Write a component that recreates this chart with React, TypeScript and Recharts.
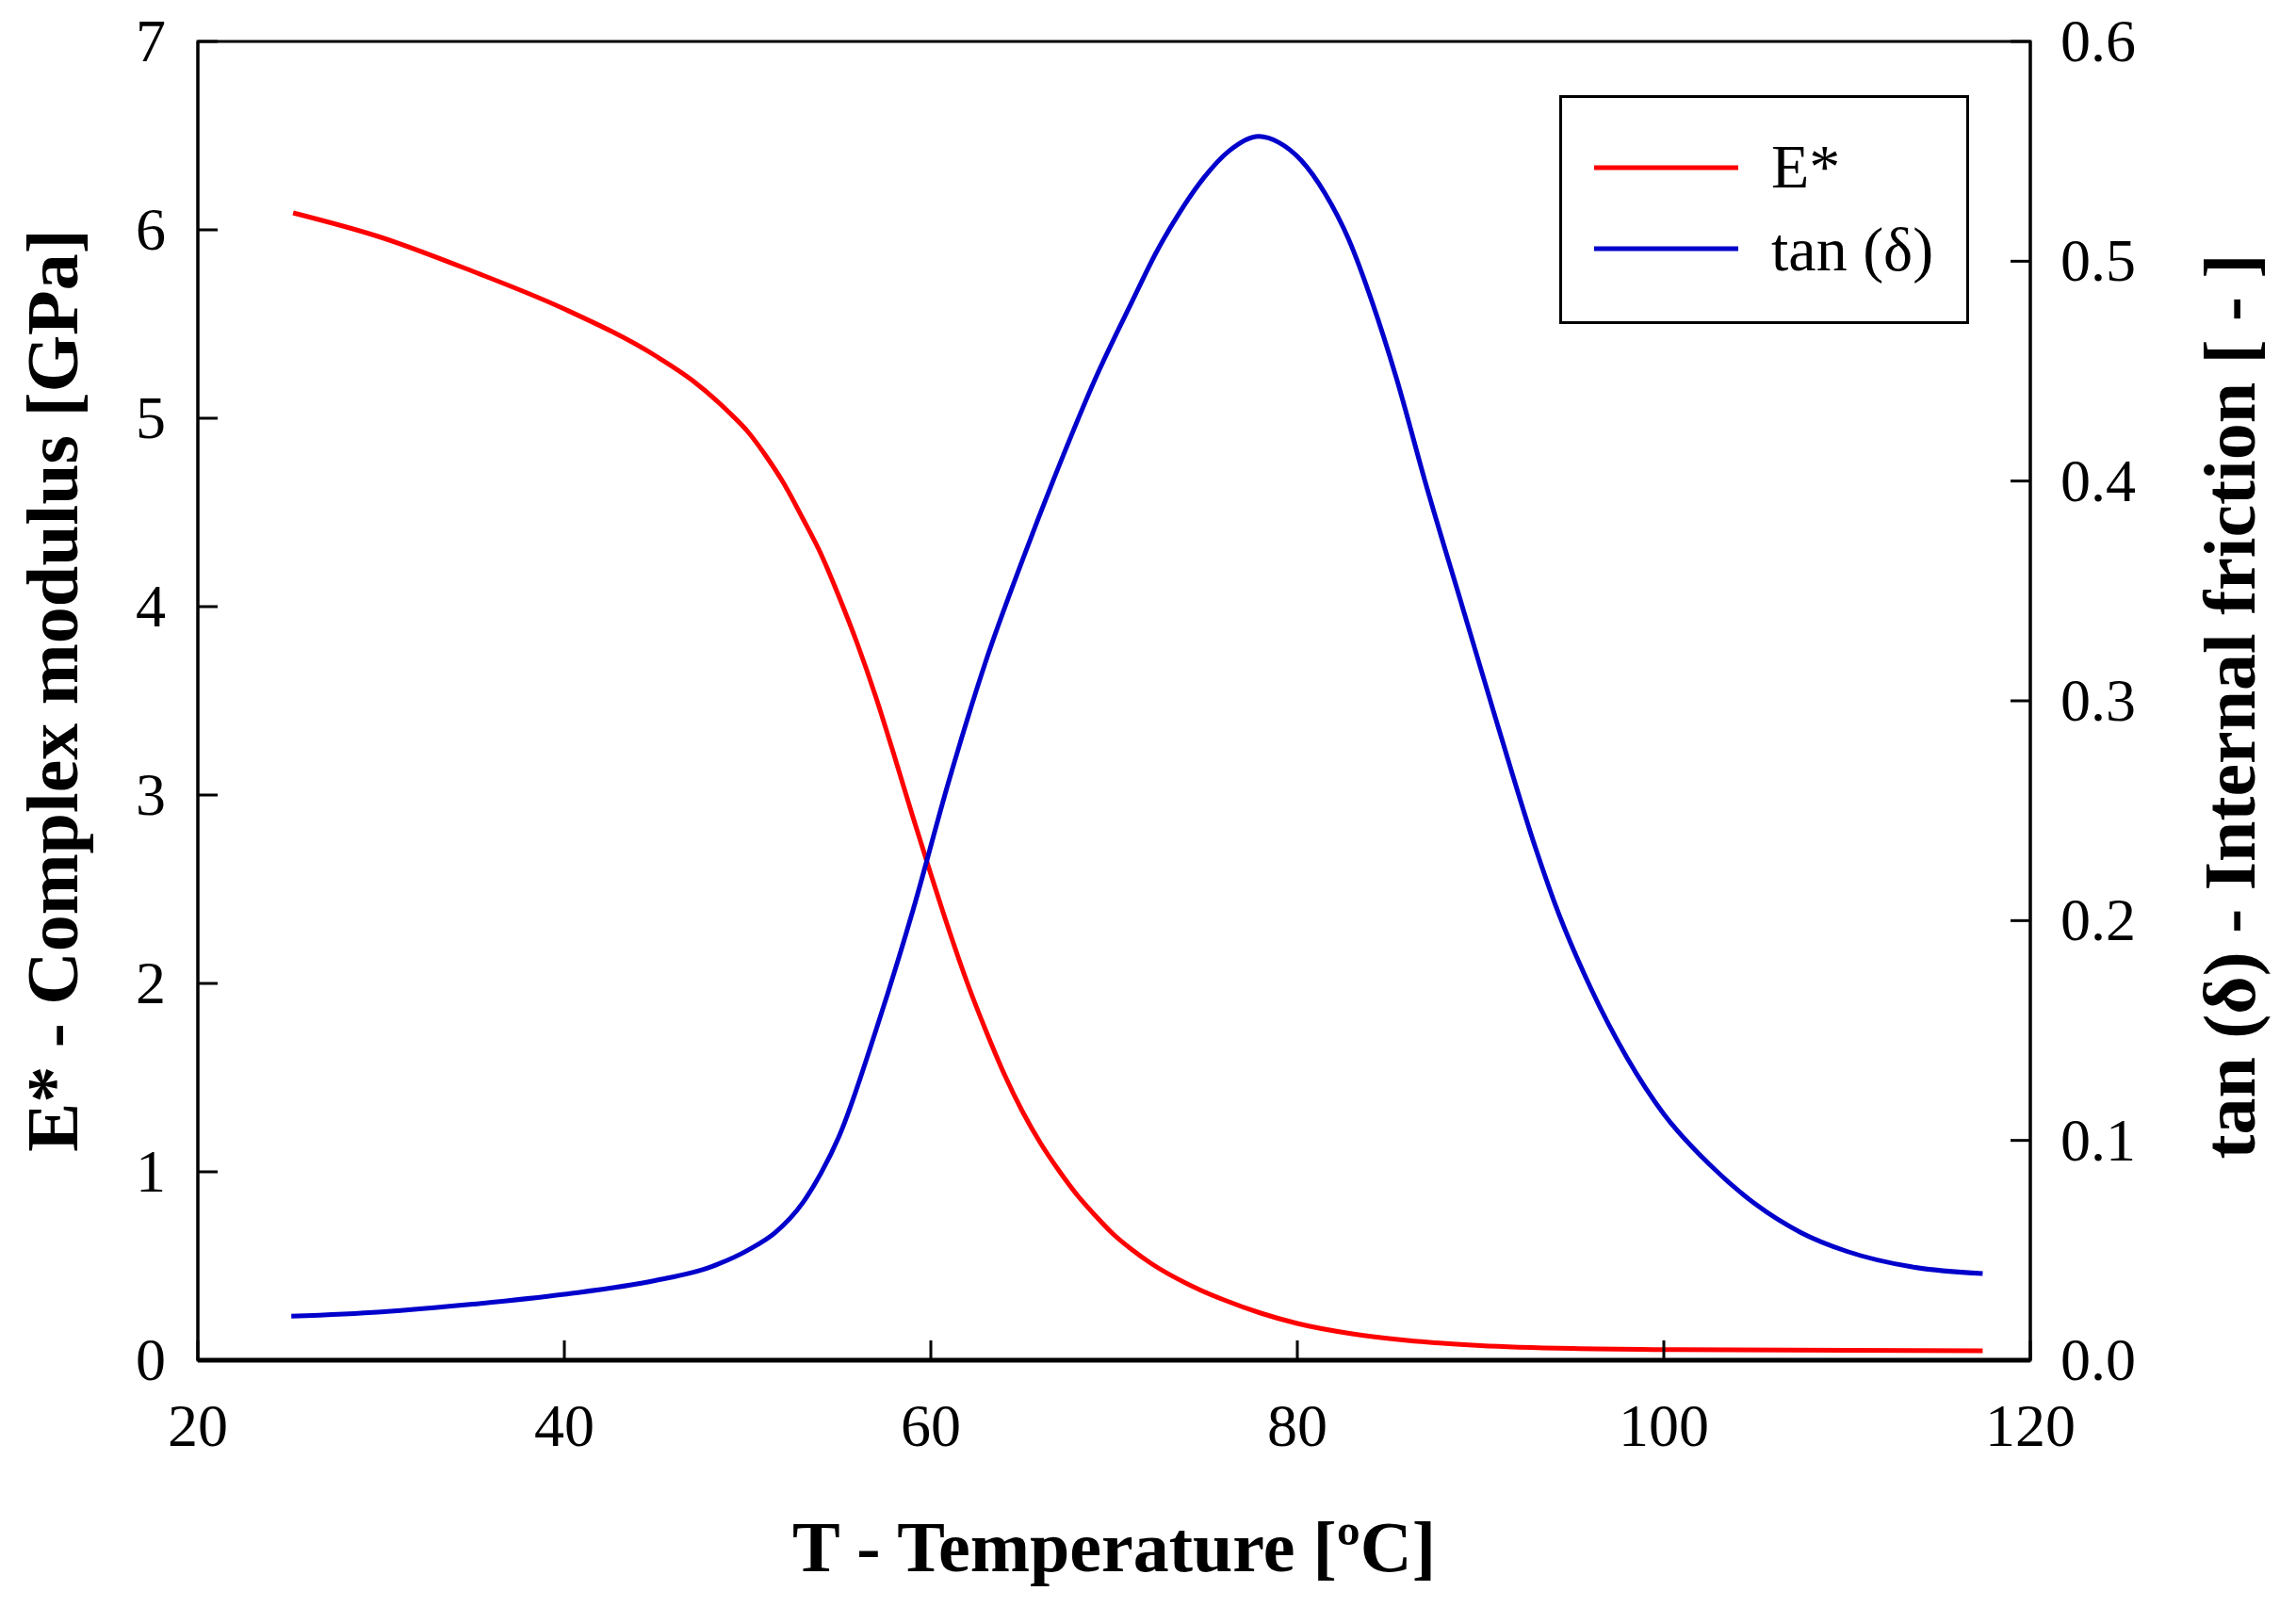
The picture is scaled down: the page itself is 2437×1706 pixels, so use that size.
import React from "react";
import {
  LineChart,
  Line,
  XAxis,
  YAxis,
  Legend,
  ReferenceArea,
} from "recharts";

// E* - complex modulus [GPa] vs temperature [°C]
const modulusTemps = [
  25.2, 30, 35, 40, 45, 47, 49, 50, 51, 52, 53, 54, 55, 56, 57, 58, 59, 60, 61,
  62, 63, 64, 65, 66, 67, 68, 69, 70, 71, 72, 74, 76, 78, 80, 83, 86, 90, 95,
  100, 110, 117.4,
];
const modulusValues = [
  6.09, 5.96, 5.78, 5.58, 5.33, 5.2, 5.03, 4.93, 4.8, 4.65, 4.47, 4.28, 4.05,
  3.8, 3.52, 3.21, 2.89, 2.58, 2.28, 2.0, 1.75, 1.52, 1.32, 1.15, 1.005, 0.875,
  0.765, 0.665, 0.585, 0.515, 0.405, 0.32, 0.25, 0.195, 0.14, 0.105, 0.078,
  0.062, 0.056, 0.052, 0.05,
];

// tan(δ) - internal friction vs temperature [°C]
const tanTemps = [
  25.1, 30, 35, 40, 45, 48, 50, 51.5, 53, 54, 55, 57, 59, 61, 63, 65, 67, 69,
  71, 72.3, 73.6, 74.9, 76.25, 77.9, 79, 80.2, 81.5, 82.8, 84.1, 85.4, 87, 89,
  91, 93, 94, 96, 98, 100, 102.5, 105, 107.5, 110, 113.5, 117.4,
];
const tanValues = [
  0.02, 0.022, 0.0255, 0.03, 0.0363, 0.0425, 0.05, 0.058, 0.0715, 0.085, 0.102,
  0.15, 0.204, 0.264, 0.318, 0.364, 0.407, 0.447, 0.482, 0.504, 0.5225, 0.538,
  0.55, 0.5568, 0.554, 0.546, 0.531, 0.51, 0.481, 0.447, 0.399, 0.343, 0.287,
  0.233, 0.209, 0.1695, 0.1375, 0.112, 0.089, 0.071, 0.058, 0.0495, 0.0425,
  0.0394,
];

const xTicks = [20, 40, 60, 80, 100, 120];
const leftTicks = [0, 1, 2, 3, 4, 5, 6, 7];
const rightTicks = [0, 0.1, 0.2, 0.3, 0.4, 0.5, 0.6];

const modulusData = modulusTemps.map((t, i) => ({ t, e: modulusValues[i] }));
const tanData = tanTemps.map((t, i) => ({ t, tan: tanValues[i] }));

const FONT = "'Liberation Serif', 'Times New Roman', serif";

const LeftTick = ({ x, y, payload }: any) => (
  <g>
    <line x1={x} x2={x + 21} y1={y} y2={y} stroke="#000" strokeWidth={3} />
    <text x={x - 34} y={y} dy={21} textAnchor="end" fontSize={64} fontFamily={FONT} fill="#000">
      {payload.value}
    </text>
  </g>
);

const RightTick = ({ x, y, payload }: any) => (
  <g>
    <line x1={x - 21} x2={x} y1={y} y2={y} stroke="#000" strokeWidth={3} />
    <text x={x + 32} y={y} dy={21} textAnchor="start" fontSize={64} fontFamily={FONT} fill="#000">
      {Number(payload.value).toFixed(1)}
    </text>
  </g>
);

const BottomTick = ({ x, y, payload }: any) => (
  <g>
    <line x1={x} x2={x} y1={y - 21} y2={y} stroke="#000" strokeWidth={3} />
    <text x={x} y={y + 91} textAnchor="middle" fontSize={64} fontFamily={FONT} fill="#000">
      {payload.value}
    </text>
  </g>
);

const LegendBox = ({ payload }: any) => (
  <div
    style={{
      width: 435,
      height: 243,
      border: "3px solid #000",
      boxSizing: "border-box",
      background: "#fff",
    }}
  >
    <svg width={429} height={237} style={{ display: "block" }}>
      {(payload || []).map((p: any, i: number) => (
        <g key={p.value}>
          <line x1={34} x2={187} y1={74 + i * 86} y2={74 + i * 86} stroke={p.color} strokeWidth={5} />
          <text x={222} y={95 + i * 88} fontSize={66} fontFamily={FONT} fill="#000">
            {p.value}
          </text>
        </g>
      ))}
    </svg>
  </div>
);

export default function App() {
  return (
    <LineChart width={2420} height={1690} margin={{ top: 36, right: 0, bottom: 0, left: 0 }}>
      <XAxis
        type="number"
        dataKey="t"
        domain={[20, 120]}
        ticks={xTicks}
        allowDataOverflow
        height={254}
        tickSize={0}
        tickMargin={0}
        tickLine={false}
        tick={<BottomTick />}
        axisLine={{ stroke: "#000", strokeWidth: 5 }}
        label={(props: any) => {
          const vb = props.viewBox;
          return (
            <text
              x={vb.x + vb.width / 2}
              y={vb.y + 224}
              textAnchor="middle"
              fontSize={76}
              fontWeight="bold"
              fontFamily={FONT}
              fill="#000"
            >
              T - Temperature [ºC]
            </text>
          );
        }}
      />
      <YAxis
        yAxisId="left"
        orientation="left"
        domain={[0, 7]}
        ticks={leftTicks}
        width={202}
        tickSize={0}
        tickMargin={0}
        tickLine={false}
        tick={<LeftTick />}
        axisLine={{ stroke: "#000", strokeWidth: 3 }}
        label={(props: any) => {
          const vb = props.viewBox;
          const cx = vb.x + 74;
          const cy = vb.y + vb.height / 2 - 11;
          return (
            <text
              x={cx}
              y={cy}
              transform={`rotate(-90, ${cx}, ${cy})`}
              textAnchor="middle"
              fontSize={78}
              fontWeight="bold"
              fontFamily={FONT}
              fill="#000"
            >
              E* - Complex modulus [GPa]
            </text>
          );
        }}
      />
      <YAxis
        yAxisId="right"
        orientation="right"
        domain={[0, 0.6]}
        ticks={rightTicks}
        width={273}
        tickSize={0}
        tickMargin={0}
        tickLine={false}
        tick={<RightTick />}
        axisLine={{ stroke: "#000", strokeWidth: 3 }}
        label={(props: any) => {
          const vb = props.viewBox;
          const cx = vb.x + 238;
          const cy = vb.y + vb.height / 2 + 6;
          return (
            <text
              x={cx}
              y={cy}
              transform={`rotate(-90, ${cx}, ${cy})`}
              textAnchor="middle"
              fontSize={78}
              fontWeight="bold"
              fontFamily={FONT}
              fill="#000"
            >
              tan (δ) - Internal friction [ - ]
            </text>
          );
        }}
      />
      <ReferenceArea
        yAxisId="left"
        x1={20}
        x2={120}
        y1={0}
        y2={7}
        fill="none"
        fillOpacity={0}
        stroke="#000"
        strokeWidth={3}
        ifOverflow="visible"
      />
      <Line
        yAxisId="left"
        data={modulusData}
        dataKey="e"
        name="E*"
        type="monotone"
        stroke="#ff0000"
        strokeWidth={5}
        dot={false}
        activeDot={false}
        isAnimationActive={false}
      />
      <Line
        yAxisId="right"
        data={tanData}
        dataKey="tan"
        name="tan (δ)"
        type="monotone"
        stroke="#0000cc"
        strokeWidth={5}
        dot={false}
        activeDot={false}
        isAnimationActive={false}
      />
      <Legend
        layout="vertical"
        align="center"
        verticalAlign="middle"
        content={<LegendBox />}
        wrapperStyle={{ left: 1647, top: 93, width: 435, height: 243 }}
      />
    </LineChart>
  );
}
